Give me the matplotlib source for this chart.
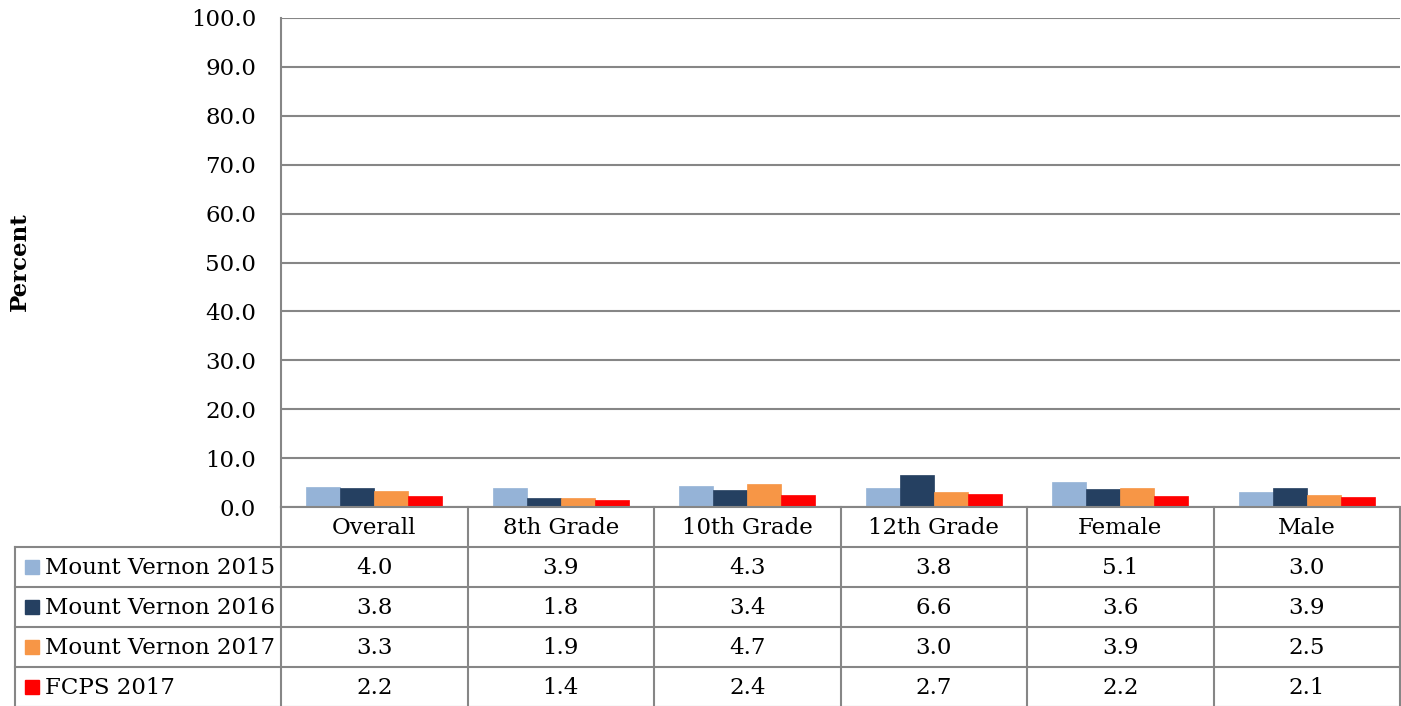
import numpy as np
import matplotlib
matplotlib.use("Agg")
import matplotlib.pyplot as plt
from matplotlib.patches import Rectangle

plt.rcParams['font.family'] = ['DejaVu Serif']

categories = ["Overall", "8th Grade", "10th Grade", "12th Grade", "Female", "Male"]
series_names = ["Mount Vernon 2015", "Mount Vernon 2016", "Mount Vernon 2017", "FCPS 2017"]
mv2015 = [4.0, 3.9, 4.3, 3.8, 5.1, 3.0]
mv2016 = [3.8, 1.8, 3.4, 6.6, 3.6, 3.9]
mv2017 = [3.3, 1.9, 4.7, 3.0, 3.9, 2.5]
fcps2017 = [2.2, 1.4, 2.4, 2.7, 2.2, 2.1]
series = [mv2015, mv2016, mv2017, fcps2017]
colors = ["#95B3D7", "#254061", "#F79646", "#FF0000"]

W, H = 1401, 706
grid_c = "#868686"
fs = 16.5

fig = plt.figure(figsize=(W / 100, H / 100), dpi=100)

# plot area in pixel terms
x0, x1, ytop, ybot = 281, 1400, 18, 507
ax = fig.add_axes([x0 / W, 1 - ybot / H, (x1 - x0) / W, (ybot - ytop) / H])

n = len(categories)
bw = 0.182
x = np.arange(n)
for i, (vals, c) in enumerate(zip(series, colors)):
    ax.bar(x + (i - 1.5) * bw, vals, width=bw, color=c, edgecolor=c, lw=0.5, zorder=3)

ax.set_xlim(-0.5, n - 0.5)
ax.set_ylim(0, 100)
ax.set_yticks(np.arange(0, 101, 10))
ax.set_yticklabels(["%.1f" % v for v in np.arange(0, 101, 10)], fontsize=fs)
ax.tick_params(axis='y', length=0, pad=18)
ax.set_xticks([])
ax.yaxis.grid(True, color=grid_c, lw=1.5)
for s in ["top", "right", "bottom"]:
    ax.spines[s].set_visible(False)
ax.spines["left"].set_color(grid_c)
ax.spines["left"].set_linewidth(1.5)
ax.set_axisbelow(True)

fig.text(20 / W, 1 - 262 / H, "Percent", rotation=90, fontsize=fs, fontweight='bold',
         ha='center', va='center')

# data table drawn in pixel coordinates
tab = fig.add_axes([0, 0, 1, 1])
tab.set_xlim(0, W)
tab.set_ylim(H, 0)
tab.axis('off')

row_h = 40
lab_x0 = 15
col_w = (x1 - x0) / n
col_edges = [x0 + k * col_w for k in range(n + 1)]
y_rows = [ybot + k * row_h for k in range(len(series) + 2)]

lk = dict(color=grid_c, lw=1.5, solid_capstyle='projecting')
# header row top and bottom
tab.plot([x0, x1], [ybot, ybot], **lk)
for k in range(1, len(series) + 2):
    tab.plot([lab_x0, x1], [y_rows[k], y_rows[k]], **lk)
for xe in col_edges:
    tab.plot([xe, xe], [ybot, y_rows[-1]], **lk)
tab.plot([lab_x0, lab_x0], [y_rows[1], y_rows[-1]], **lk)

for j, cat in enumerate(categories):
    cx = (col_edges[j] + col_edges[j + 1]) / 2
    tab.text(cx, ybot + row_h / 2 + 1, cat, ha='center', va='center', fontsize=fs)

for i, (name, vals, c) in enumerate(zip(series_names, series, colors)):
    cy = y_rows[i + 1] + row_h / 2
    tab.add_patch(Rectangle((lab_x0 + 10, cy - 7), 14, 14, color=c))
    tab.text(lab_x0 + 30, cy + 1, name, ha='left', va='center', fontsize=fs)
    for j, v in enumerate(vals):
        cx = (col_edges[j] + col_edges[j + 1]) / 2
        tab.text(cx, cy + 1, "%.1f" % v, ha='center', va='center', fontsize=fs)

fig.savefig("out.png", dpi=100)
